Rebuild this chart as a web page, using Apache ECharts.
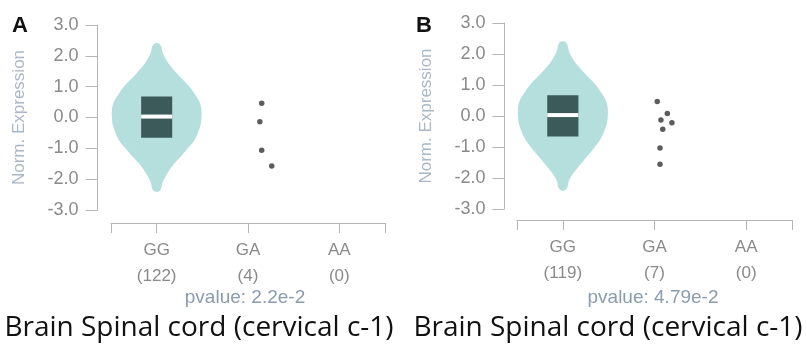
<!DOCTYPE html>
<html><head><meta charset="utf-8">
<script src="https://cdn.jsdelivr.net/npm/echarts@6/dist/echarts.min.js"></script>
<style>html,body{margin:0;padding:0;background:#fff}#c{width:807px;height:360px}</style>
</head><body><div id="c"></div>
<script>
// ---- data ----
const categories = ['GG', 'GA', 'AA'];
const countsA = [122, 4, 0];
const countsB = [119, 7, 0];
const pvalueA = '2.2e-2';
const pvalueB = '4.79e-2';
const tissue = 'Brain Spinal cord (cervical c-1)';
const yTicks = [-3, -2, -1, 0, 1, 2, 3];
// violin profile (expression level -> half width in category units)
const violinY      = [-2.4, -2.3, -2.15, -2.0, -1.75, -1.5, -1.25, -1.0, -0.75, -0.5, -0.25, 0.0, 0.25, 0.5, 0.75, 1.0, 1.25, 1.5, 1.75, 2.0, 2.15, 2.3, 2.4];
const violinWidthA = [0.02, 0.05, 0.06, 0.08, 0.13, 0.19, 0.27, 0.34, 0.41, 0.45, 0.48, 0.49, 0.49, 0.47, 0.42, 0.36, 0.28, 0.2, 0.13, 0.08, 0.06, 0.05, 0.02];
const violinWidthB = [0.02, 0.05, 0.06, 0.08, 0.14, 0.21, 0.28, 0.35, 0.41, 0.45, 0.48, 0.49, 0.49, 0.47, 0.42, 0.36, 0.28, 0.2, 0.13, 0.08, 0.06, 0.05, 0.02];
// box: [q1, median, q3]
const boxA = [-0.66, 0.03, 0.68];
const boxB = [-0.66, 0.03, 0.67];
// GA points: expression values and horizontal jitter
const dotsAy = [0.46, -0.14, -1.06, -1.57];
const dotsAx = [0.15, 0.13, 0.15, 0.26];
const dotsBy = [0.47, 0.08, -0.13, -0.22, -0.43, -1.03, -1.56];
const dotsBx = [0.03, 0.14, 0.07, 0.19, 0.09, 0.06, 0.06];

// ---- styles ----
const FONT = 'Liberation Sans, Arial, sans-serif';
const AXIS_C = '#b5b5b5';
const LABEL_C = '#8a8a8a';
const VIOLIN_C = '#b4dfdd';
const BOX_C = '#3d5a5b';
const DOT_C = '#333333';

const chart = echarts.init(document.getElementById('c'), null, {renderer: 'canvas'});

function violinSeries(gi, widths, box) {
  return {
    type: 'custom', xAxisIndex: gi, yAxisIndex: gi, clip: false, silent: true,
    data: [[0]],
    renderItem: function (params, api) {
      const cx = api.value(0);
      const pts = [];
      for (let i = 0; i < violinY.length; i++) pts.push(api.coord([cx + widths[i], violinY[i]]));
      for (let i = violinY.length - 1; i >= 0; i--) pts.push(api.coord([cx - widths[i], violinY[i]]));
      const bw = 0.17;
      const tl = api.coord([cx - bw, box[2]]);
      const br = api.coord([cx + bw, box[0]]);
      const ml = api.coord([cx - bw, box[1]]);
      const mr = api.coord([cx + bw, box[1]]);
      return {
        type: 'group',
        children: [
          {type: 'polygon', shape: {points: pts, smooth: 0.35}, style: {fill: VIOLIN_C}},
          {type: 'rect', shape: {x: tl[0], y: tl[1], width: br[0] - tl[0], height: br[1] - tl[1]}, style: {fill: BOX_C}},
          {type: 'line', shape: {x1: ml[0], y1: ml[1], x2: mr[0], y2: mr[1]}, style: {stroke: '#ffffff', lineWidth: 4}}
        ]
      };
    }
  };
}

function dotSeries(gi, xs, ys) {
  return {
    type: 'scatter', xAxisIndex: gi, yAxisIndex: gi, silent: true,
    symbolSize: 5.5, itemStyle: {color: DOT_C},
    data: ys.map((y, i) => [1 + xs[i], y])
  };
}

function xAxis(gi, counts, offset) {
  return {
    type: 'value', gridIndex: gi, min: -0.5, max: 2.5, offset: offset, position: 'bottom',
    axisLine: {show: true, onZero: false, lineStyle: {color: AXIS_C, width: 1}},
    axisTick: {show: true, length: 10, customValues: [-0.5, 0, 1, 2, 2.5], lineStyle: {color: AXIS_C}},
    splitLine: {show: false},
    axisLabel: {
      customValues: [0, 1, 2], margin: 14, color: LABEL_C, fontFamily: FONT, fontSize: 17, lineHeight: 26,
      formatter: v => categories[Math.round(v)] + '\n(' + counts[Math.round(v)] + ')'
    }
  };
}

function yAxis(gi, offset) {
  return {
    type: 'value', gridIndex: gi, min: -3, max: 3, interval: 1, offset: offset, position: 'left',
    name: 'Norm. Expression', nameLocation: 'middle', nameRotate: 90, nameGap: 70,
    nameTextStyle: {color: '#a9b7c6', fontFamily: FONT, fontSize: 17},
    axisLine: {show: true, onZero: false, lineStyle: {color: AXIS_C, width: 1}},
    axisTick: {show: true, length: 12, lineStyle: {color: AXIS_C}},
    splitLine: {show: false},
    axisLabel: {margin: 19, color: LABEL_C, fontFamily: FONT, fontSize: 18, formatter: v => v.toFixed(1)}
  };
}

const option = {
  animation: false,
  grid: [
    {left: 111, top: 25, width: 274, height: 185},
    {left: 517, top: 23, width: 275, height: 186}
  ],
  xAxis: [xAxis(0, countsA, 13), xAxis(1, countsB, 11)],
  yAxis: [yAxis(0, 13.5), yAxis(1, 12.5)],
  series: [
    violinSeries(0, violinWidthA, boxA),
    violinSeries(1, violinWidthB, boxB),
    dotSeries(0, dotsAx, dotsAy),
    dotSeries(1, dotsBx, dotsBy)
  ],
  graphic: [
    {type: 'text', left: 12, top: 15, style: {text: 'A', font: 'bold 22px ' + FONT, fill: '#111'}},
    {type: 'text', left: 416, top: 15, style: {text: 'B', font: 'bold 22px ' + FONT, fill: '#111'}},
    {type: 'text', x: 245, y: 298, style: {text: 'pvalue: ' + pvalueA, font: '19px ' + FONT, fill: '#8b9bb0', align: 'center', verticalAlign: 'middle'}},
    {type: 'text', x: 653, y: 298, style: {text: 'pvalue: ' + pvalueB, font: '19px ' + FONT, fill: '#8b9bb0', align: 'center', verticalAlign: 'middle'}},
    {type: 'text', x: 199, y: 328, style: {text: tissue, font: '28px "Open Sans", sans-serif', fill: '#111', align: 'center', verticalAlign: 'middle'}},
    {type: 'text', x: 608, y: 328, style: {text: tissue, font: '28px "Open Sans", sans-serif', fill: '#111', align: 'center', verticalAlign: 'middle'}}
  ]
};
chart.setOption(option);
</script></body></html>
